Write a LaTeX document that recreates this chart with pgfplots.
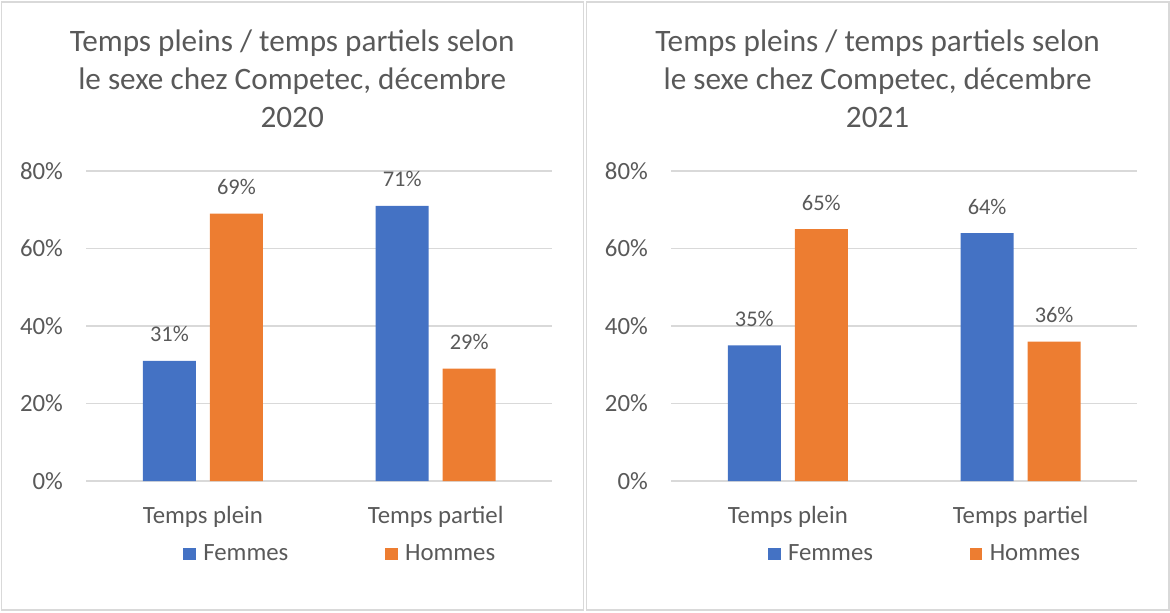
\documentclass[border=0pt]{standalone}
\usepackage{pgfplots}
\pgfplotsset{compat=1.18}
\usepackage{fontspec}
\setmainfont{Carlito}
\definecolor{cblue}{HTML}{4472C4}
\definecolor{corange}{HTML}{ED7D31}
\definecolor{ctext}{HTML}{595959}
\definecolor{cgrid}{HTML}{D9D9D9}
\pgfplotsset{
  panel/.style={
    scale only axis, width=232.8pt, height=155pt,
    anchor=south west,
    ymin=0, ymax=80, ytick={0,20,40,60,80},
    xmin=-0.5, xmax=1.5, xtick={0,1}, xticklabels={Temps plein, Temps partiel},
    ybar=7pt, bar width=26.5pt,
    axis line style={draw=none}, tick style={draw=none},
    ymajorgrids, grid style={cgrid, line width=0.75pt},
    /pgf/number format/assume math mode=true,
    yticklabel={\pgfmathprintnumber{\tick}\%},
    yticklabel style={anchor=east, inner sep=0pt, xshift=-11.6pt, font=\fontsize{12.4}{14}\selectfont, text=ctext},
    xticklabel style={anchor=base, inner sep=0pt, yshift=-16.85pt, font=\fontsize{12.4}{14}\selectfont, text=ctext},
    nodes near coords={\pgfmathprintnumber\pgfplotspointmeta\%},
    every node near coord/.append style={anchor=base, inner sep=0pt, yshift=9.5pt, font=\fontsize{11.2}{13}\selectfont, text=ctext},
    legend columns=2,
    legend style={draw=none, fill=none, inner sep=0pt, outer sep=0pt,
      anchor=west, nodes={inner sep=0pt}, font=\fontsize{12.4}{14}\selectfont, text=ctext,
      /tikz/every odd column/.append style={column sep=3.65pt},
      /tikz/every even column/.append style={column sep=48.35pt}},
  },
  fem/.style={fill=cblue, draw=none, legend image code/.code={\fill[cblue] (0pt,-3.175pt) rectangle (6.35pt,3.175pt);}},
  hom/.style={fill=corange, draw=none, legend image code/.code={\fill[corange] (0pt,-3.175pt) rectangle (6.35pt,3.175pt);}},
}
\begin{document}
\begin{tikzpicture}
\useasboundingbox (0,0) rectangle (585pt,306pt);
\draw[cgrid, line width=0.75pt] (0.85pt,1pt) rectangle (291.85pt,305pt);
\draw[cgrid, line width=0.75pt] (293.15pt,1pt) rectangle (584.5pt,305pt);
% titles
\begin{scope}[every node/.style={anchor=base, inner sep=0pt, text=ctext, font=\fontsize{15.6}{19}\selectfont}]
\node at (146.1pt,280pt) {Temps pleins / temps partiels selon};
\node at (146.1pt,261.05pt) {le sexe chez Competec, décembre};
\node at (146.1pt,242.1pt) {2020};
\node at (438.8pt,280pt) {Temps pleins / temps partiels selon};
\node at (438.8pt,261.05pt) {le sexe chez Competec, décembre};
\node at (438.8pt,242.1pt) {2021};
\end{scope}
\begin{axis}[panel, at={(43.25pt,65.5pt)}, legend style={at={(0.208,-0.235)}}]
\addplot[fem] coordinates {(0,31) (1,71)};
\addplot[hom] coordinates {(0,69) (1,29)};
\legend{Femmes, Hommes}
\end{axis}
\begin{axis}[panel, at={(335.7pt,65.5pt)}, legend style={at={(0.2075,-0.235)}}]
\addplot[fem] coordinates {(0,35) (1,64)};
\addplot[hom] coordinates {(0,65) (1,36)};
\legend{Femmes, Hommes}
\end{axis}
\end{tikzpicture}
\end{document}
